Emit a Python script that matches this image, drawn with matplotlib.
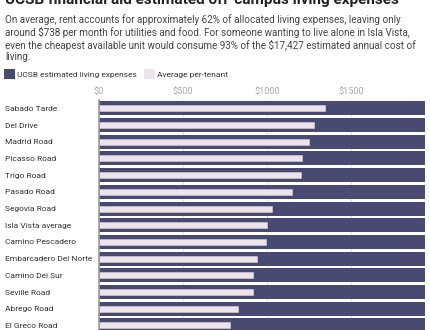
import numpy as np
import matplotlib.pyplot as plt
from matplotlib.patches import Patch

plt.rcParams['font.family'] = ['Roboto', 'DejaVu Sans']

streets = ["Sabado Tarde", "Del Drive", "Madrid Road", "Picasso Road", "Trigo Road",
           "Pasado Road", "Segovia Road", "Isla Vista average", "Camino Pescadero",
           "Embarcadero Del Norte", "Camino Del Sur", "Seville Road", "Abrego Road",
           "El Greco Road"]
per_tenant = [1343, 1278, 1252, 1210, 1201, 1151, 1030, 1001, 993, 939, 918, 918, 830, 781]
ucsb_monthly = 1936
ticks = [0, 500, 1000, 1500]
tick_labels = ["$0", "$500", "$1000", "$1500"]

dark = "#484a72"
light = "#ece4ea"

W, H = 430, 330
fig = plt.figure(figsize=(W / 100, H / 100), dpi=100)
ax = fig.add_axes([98.5 / W, 0, (425 - 98.5) / W, 230 / H])

y = np.arange(len(streets))
ax.barh(y, [ucsb_monthly] * len(streets), height=0.84, color=dark, zorder=2)
ax.barh(y, per_tenant, height=0.36, color=light, edgecolor="#d8d0d8", linewidth=0.4, zorder=3)

ax.set_xlim(0, 1938)
ax.set_ylim(13.27, -0.5)
ax.set_xticks(ticks)
ax.set_xticklabels(tick_labels)
ax.xaxis.tick_top()
ax.tick_params(axis="x", length=0, pad=3, labelsize=6.6, labelcolor="#aaaaaa")
ax.grid(axis="x", color="#e2e2e2", linewidth=0.8, zorder=0)
ax.set_yticks(y)
ax.set_yticklabels(streets)
ax.tick_params(axis="y", length=0, pad=67.3, labelsize=6.0, labelcolor="#333333")
for lab in ax.get_yticklabels():
    lab.set_horizontalalignment("left")
for s in ["top", "right", "bottom"]:
    ax.spines[s].set_visible(False)
ax.spines["left"].set_color("#999999")
ax.spines["left"].set_linewidth(1.2)
ax.spines["left"].set_zorder(4)

fig.text(5 / W, 1 - 4 / H, "UCSB financial aid estimated off-campus living expenses",
         fontsize=11.0, fontweight="bold", color="#222222", va="baseline", ha="left")
subtitle = ("On average, rent accounts for approximately 62% of allocated living expenses, leaving only\n"
            "around $738 per month for utilities and food. For someone wanting to live alone in Isla Vista,\n"
            "even the cheapest available unit would consume 93% of the $17,427 estimated annual cost of\n"
            "living.")
fig.text(5 / W, 1 - 14.5 / H, subtitle, fontsize=7.1, color="#444444", va="top", ha="left",
         linespacing=1.15)

handles = [Patch(facecolor=dark, label="UCSB estimated living expenses"),
           Patch(facecolor=light, label="Average per-tenant")]
fig.legend(handles=handles, loc="center left", bbox_to_anchor=(4 / W, 1 - 74 / H), ncol=2,
           frameon=False, fontsize=6.0, handlelength=1.3, handleheight=1.3, handletextpad=0.25,
           columnspacing=0.85, borderaxespad=0, borderpad=0, labelcolor="#333333")

fig.savefig("out.png", dpi=100)
